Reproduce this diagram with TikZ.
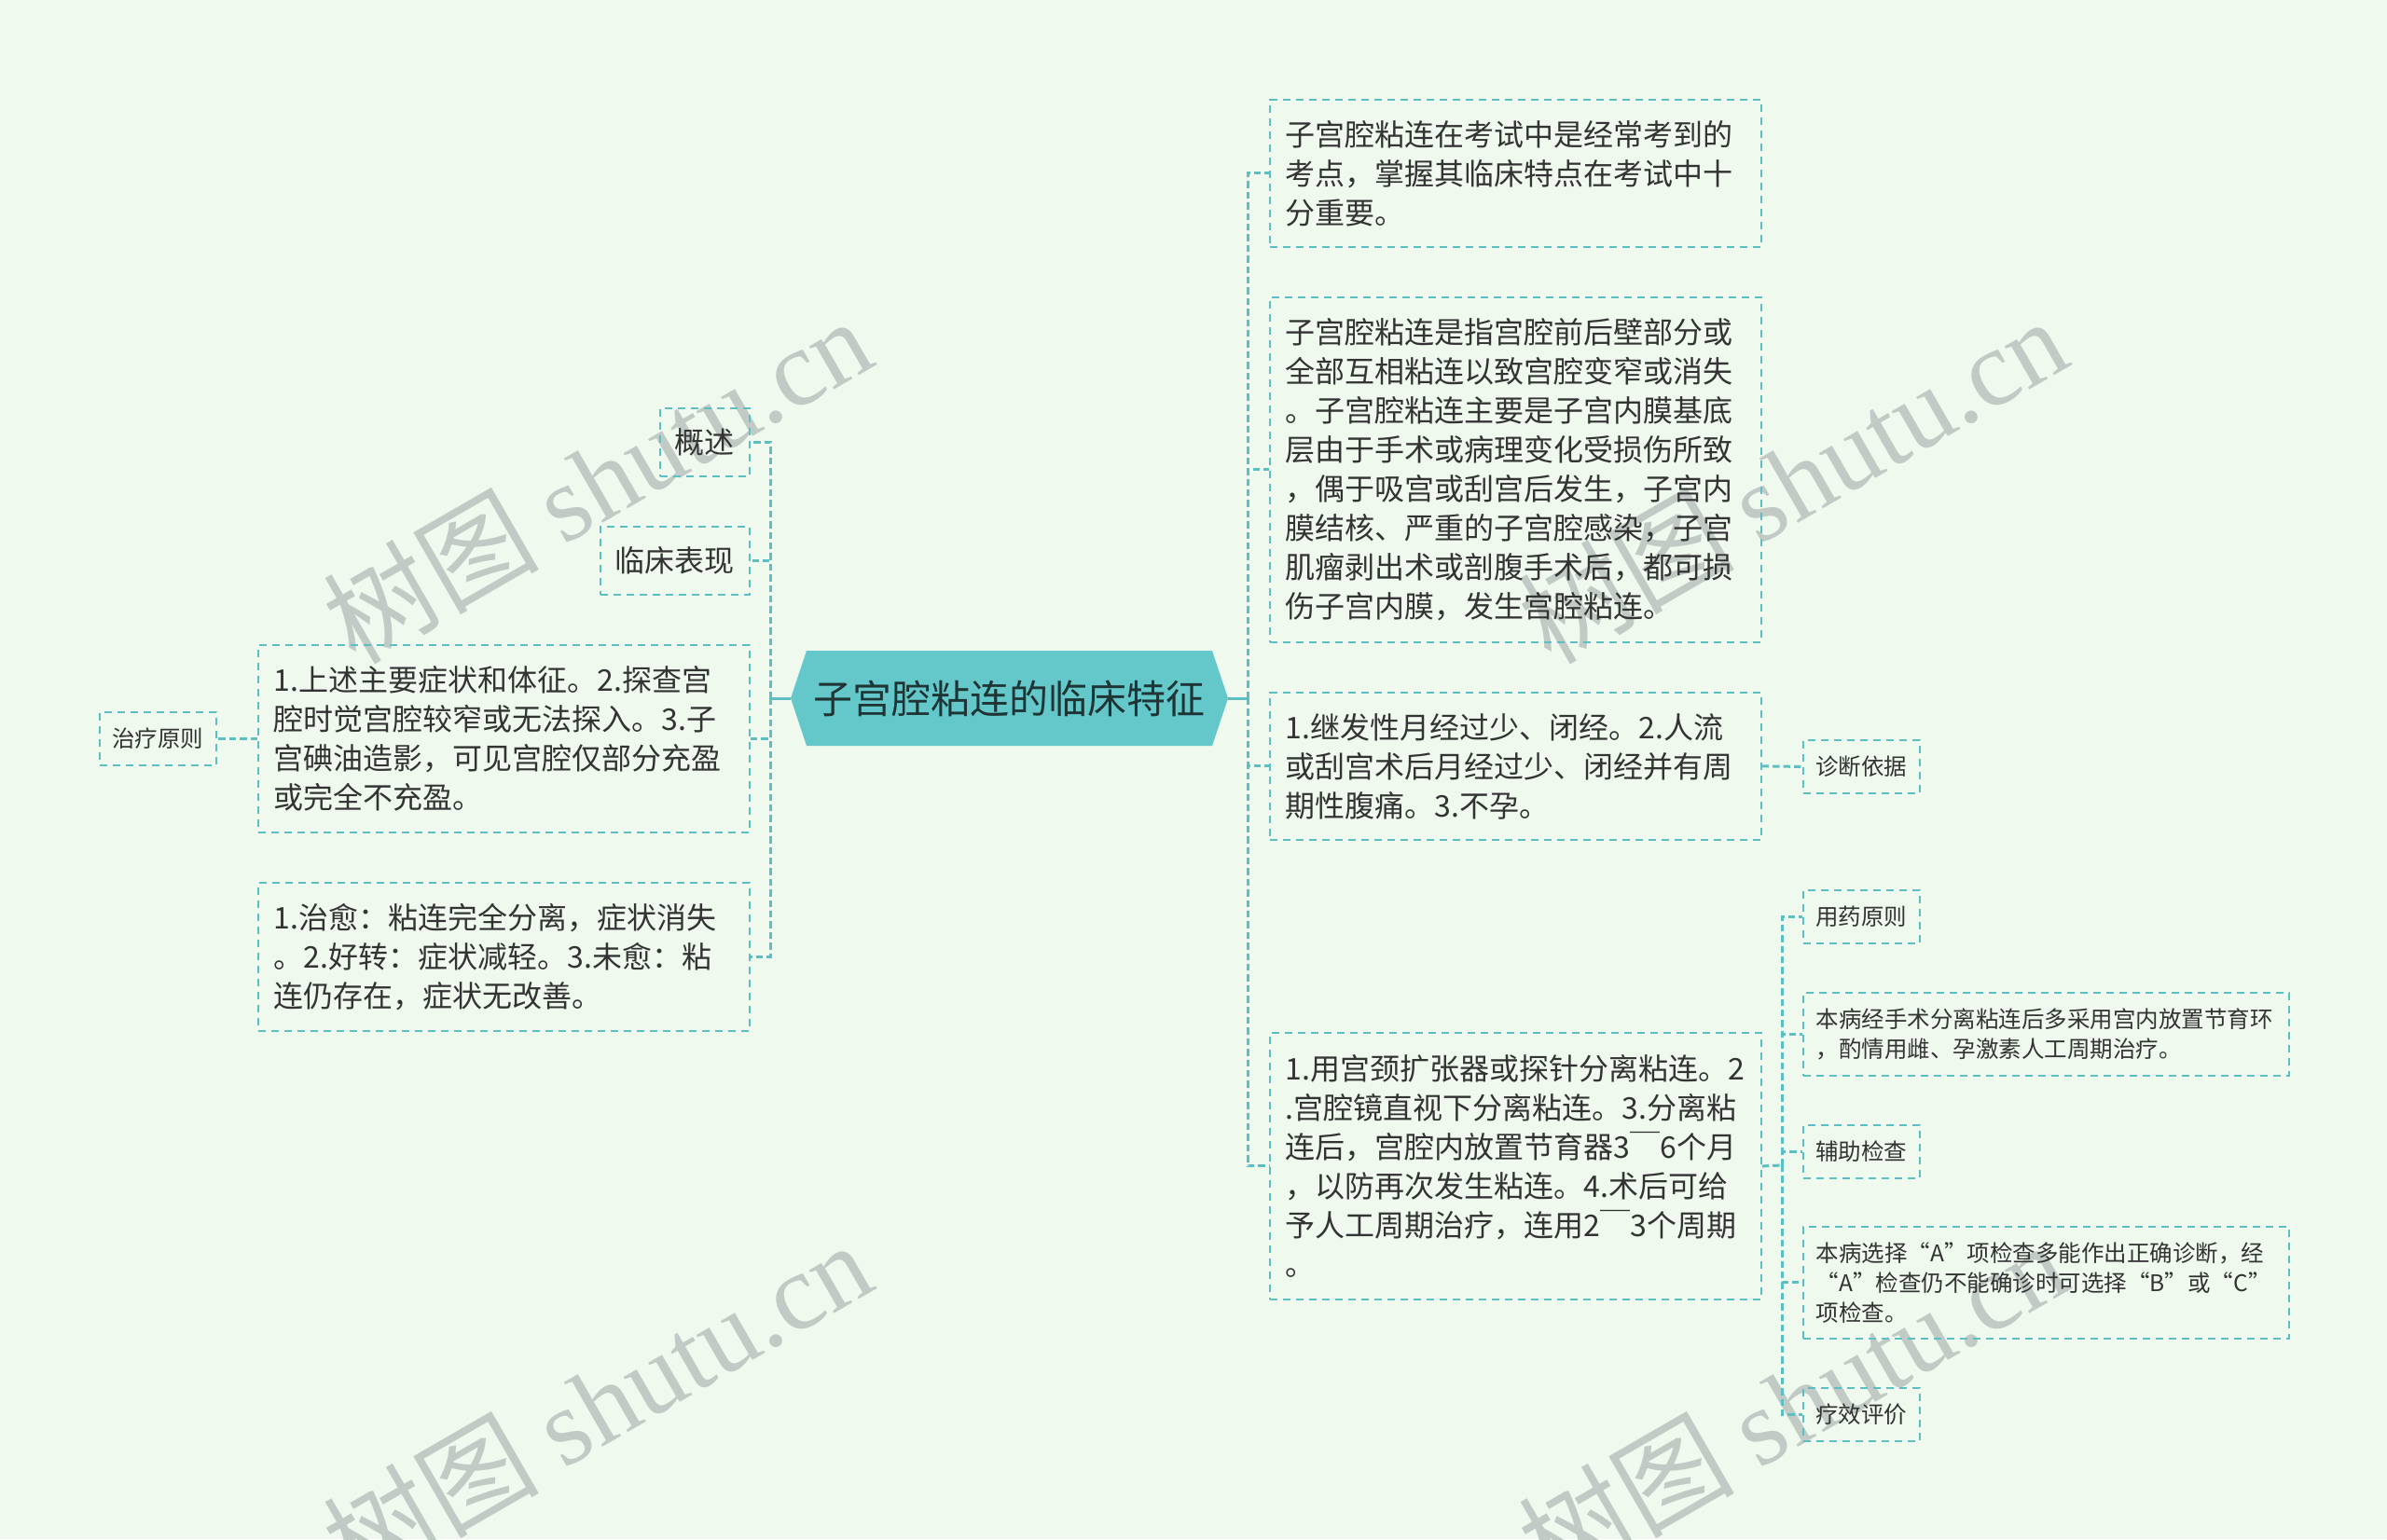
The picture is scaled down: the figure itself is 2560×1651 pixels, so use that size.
\documentclass[tikz,border=0pt]{standalone}
\usepackage{fontspec}
\setmainfont{Noto Sans CJK SC}
\newfontfamily\wmlatin{Liberation Serif}
\usetikzlibrary{positioning}
\definecolor{bgmint}{HTML}{EFF9EE}
\definecolor{tealline}{HTML}{5CBFC3}
\definecolor{rootfill}{HTML}{64C8CA}
\definecolor{roottext}{HTML}{1F3535}
\definecolor{boxtext}{HTML}{333333}
\definecolor{wmgray}{HTML}{C2CAC5}

\begin{document}
\begin{tikzpicture}[x=0.5pt,y=-0.5pt]
    \tikzstyle{link}=[draw=tealline, line width=1.5pt, dash pattern=on 3.7pt off 2pt]
    \tikzstyle{box}=[draw=tealline, line width=0.9pt, dash pattern=on 4.2pt off 2.8pt, text=boxtext, anchor=north west, inner ysep=0pt]
    \tikzstyle{big box}=[box, font=\fontsize{16pt}{21pt}\selectfont, inner xsep=8.5pt, text width=246.5pt, align=left]
    \tikzstyle{note box}=[box, font=\fontsize{12.25pt}{15.85pt}\selectfont, inner xsep=7pt, text width=246.5pt, align=left]
    \tikzstyle{tag box}=[box, font=\fontsize{16pt}{21pt}\selectfont, inner xsep=8pt, minimum height=36.5pt]
    \tikzstyle{small box}=[box, font=\fontsize{12.25pt}{15.85pt}\selectfont, inner xsep=6.75pt, minimum height=28.5pt]
    \tikzstyle{watermark}=[text=wmgray, rotate=30, font=\fontsize{58pt}{58pt}\selectfont]

	\useasboundingbox[fill=bgmint] (0,0) rectangle (2560,1651);

	\node[watermark] (W-1) at (640,514) {树图 \wmlatin shutu.cn};
	\node[watermark] (W-2) at (1922,514) {树图 \wmlatin shutu.cn};
	\node[watermark] (W-3) at (640,1505) {树图 \wmlatin shutu.cn};
	\node[watermark] (W-4) at (1922,1505) {树图 \wmlatin shutu.cn};

	\fill[rootfill] (848,749) -- (865,698) -- (1300,698) -- (1317,749) -- (1300,800) -- (865,800) -- cycle;
	\node[text=roottext, font=\fontsize{21pt}{21pt}\selectfont, minimum width=234.5pt, minimum height=51pt, inner sep=0pt] (C) at (1082.5,749) {子宫腔粘连的临床特征};
	\coordinate (lj) at (826,749);
	\coordinate (rj) at (1338,749);

	% left side
	\node[tag box] (L-1) at (707,437) {概述};
	\node[tag box] (L-2) at (643,564) {临床表现};
	\node[big box, minimum height=100.5pt] (L-3) at (276,691) {1.上述主要症状和体征。2.探查宫\\腔时觉宫腔较窄或无法探入。3.子\\宫碘油造影，可见宫腔仅部分充盈\\或完全不充盈。};
	\node[big box, minimum height=79.5pt] (L-4) at (276,946) {1.治愈：粘连完全分离，症状消失\\。2.好转：症状减轻。3.未愈：粘\\连仍存在，症状无改善。};
	\node[small box] (L-3a) at (106,763) {治疗原则};

	% right side
	\node[big box, minimum height=79pt] (R-1) at (1361,106) {子宫腔粘连在考试中是经常考到的\\考点，掌握其临床特点在考试中十\\分重要。};
	\node[big box, minimum height=185pt] (R-2) at (1361,318) {子宫腔粘连是指宫腔前后壁部分或\\全部互相粘连以致宫腔变窄或消失\\。子宫腔粘连主要是子宫内膜基底\\层由于手术或病理变化受损伤所致\\，偶于吸宫或刮宫后发生，子宫内\\膜结核、严重的子宫腔感染，子宫\\肌瘤剥出术或剖腹手术后，都可损\\伤子宫内膜，发生宫腔粘连。};
	\node[big box, minimum height=79pt] (R-3) at (1361,742) {1.继发性月经过少、闭经。2.人流\\或刮宫术后月经过少、闭经并有周\\期性腹痛。3.不孕。};
	\node[big box, minimum height=143pt] (R-4) at (1361,1107) {1.用宫颈扩张器或探针分离粘连。2\\.宫腔镜直视下分离粘连。3.分离粘\\连后，宫腔内放置节育器3￣6个月\\，以防再次发生粘连。4.术后可给\\予人工周期治疗，连用2￣3个周期\\。};
	\node[small box] (R-3a) at (1933,793) {诊断依据};
	\node[small box] (R-4a) at (1933,954) {用药原则};
	\node[note box, minimum height=44.5pt] (R-4b) at (1933,1064) {本病经手术分离粘连后多采用宫内放置节育环\\，酌情用雌、孕激素人工周期治疗。};
	\node[small box] (R-4c) at (1933,1206) {辅助检查};
	\node[note box, minimum height=60pt] (R-4d) at (1933,1315) {本病选择“A”项检查多能作出正确诊断，经\\“A”检查仍不能确诊时可选择“B”或“C”\\项检查。};
	\node[small box] (R-4e) at (1933,1488) {疗效评价};
	\coordinate (fj) at (1911,1250);

	\draw[tealline, line width=1.5pt] (C.west) -- (lj);
	\draw[tealline, line width=1.5pt] (C.east) -- (rj);
	\foreach \n in {L-1,L-2,L-3,L-4}
		\draw[link] (lj) |- (\n.east);
	\draw[link] (L-3.west) -- (L-3a.east);
	\foreach \n in {R-1,R-2,R-3,R-4}
		\draw[link] (rj) |- (\n.west);
	\draw[link] (R-3.east) -- (R-3a.west);
	\draw[link] (R-4.east) -- (fj);
	\foreach \n in {R-4a,R-4b,R-4c,R-4d,R-4e}
		\draw[link] (fj) |- (\n.west);
\end{tikzpicture}
\end{document}
